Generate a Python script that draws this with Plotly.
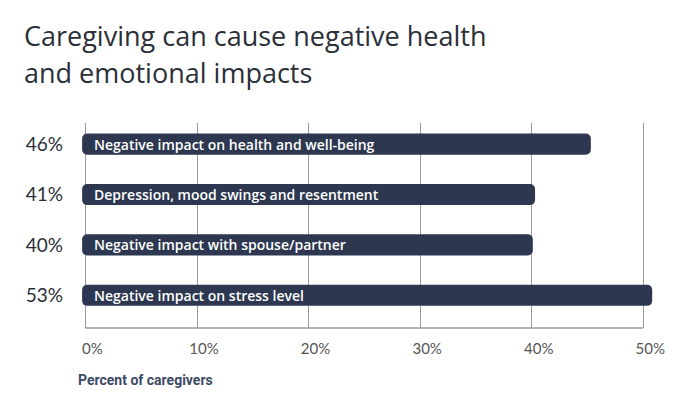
import plotly.graph_objects as go

title_lines = ["Caregiving can cause negative health", "and emotional impacts"]
categories = [
    "Negative impact on health and well-being",
    "Depression, mood swings and resentment",
    "Negative impact with spouse/partner",
    "Negative impact on stress level",
]
shown_pct = [46, 41, 40, 53]          # labels printed left of the bars
bar_len = [45.6, 40.6, 40.4, 51.1]    # bar lengths as drawn in the picture
x_ticks = [0, 10, 20, 30, 40, 50]
x_tick_labels = ["0%", "10%", "20%", "30%", "40%", "50%"]
x_title = "Percent of caregivers"

BAR = "#2d3850"
GRID = "#9a9a9a"

ypos = list(range(len(categories)))

fig = go.Figure()
fig.add_trace(go.Bar(
    x=bar_len, y=ypos, base=-0.3, orientation="h",
    marker=dict(color=BAR, line=dict(width=0)),
    width=0.42, hoverinfo="skip",
))

for i, c in enumerate(categories):
    fig.add_annotation(x=0, y=i, xref="x", yref="y", text=c, showarrow=False,
                       xanchor="left", yanchor="middle", xshift=7,
                       font=dict(family="Open Sans", size=14, color="white", weight=600))

plot_top, plot_bot = 123, 328
H = plot_bot - plot_top
def py(y):
    return (plot_bot - y) / H

fig.add_annotation(x=-0.1, y=py(35), xref="paper", yref="paper", text=title_lines[0],
                   showarrow=False, xanchor="left", yanchor="middle",
                   font=dict(family="Open Sans", size=27, color="#2b2f38"))
fig.add_annotation(x=-0.1, y=py(72), xref="paper", yref="paper", text=title_lines[1],
                   showarrow=False, xanchor="left", yanchor="middle",
                   font=dict(family="Open Sans", size=27, color="#2b2f38"))
fig.add_annotation(x=-0.3, y=py(380), xref="x", yref="paper", text=x_title,
                   showarrow=False, xanchor="left", yanchor="middle", xshift=-6,
                   font=dict(family="Roboto", size=14, color="#3c4a66", weight=700))

fig.add_shape(type="line", x0=0, x1=50, y0=0, y1=0, xref="x", yref="paper",
              line=dict(color=GRID, width=1.5))

fig.update_layout(
    width=680, height=395,
    margin=dict(l=80, r=20, t=plot_top, b=395 - plot_bot),
    paper_bgcolor="white", plot_bgcolor="white",
    showlegend=False,
    xaxis=dict(range=[-0.49, 51.5], tickvals=x_ticks, ticktext=x_tick_labels,
               showgrid=True, gridcolor=GRID, gridwidth=1, zeroline=False,
               showline=False, ticks="", ticklabelstandoff=10, ticklabelshift=7,
               automargin=False,
               tickfont=dict(family="Lato", size=15, color="#555555"), fixedrange=True),
    yaxis=dict(range=[3.65, -0.42], tickvals=ypos,
               ticktext=[f"{v}%" for v in shown_pct],
               showgrid=False, zeroline=False, showline=False, ticks="",
               ticklabelstandoff=16, automargin=False,
               tickfont=dict(family="Lato", size=19, color="#2b2f38"), fixedrange=True),
    barcornerradius=5,
)

fig.write_html("out.html", config={"displayModeBar": False},
               post_script="document.body.style.margin='0';document.body.style.overflow='hidden';")
